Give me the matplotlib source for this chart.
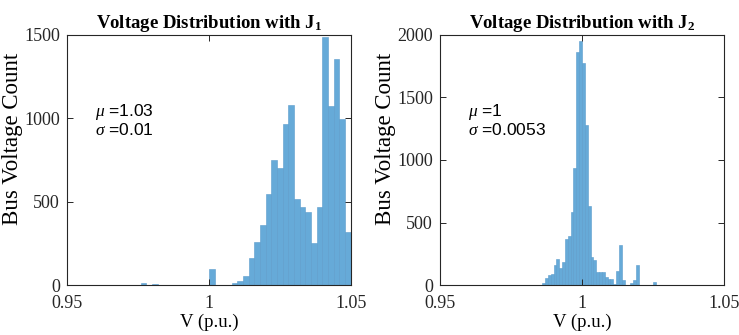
import numpy as np
import matplotlib
matplotlib.use("Agg")
import matplotlib.pyplot as plt

matplotlib.rcParams.update({
    "font.family": "Liberation Serif",
    "mathtext.fontset": "custom",
    "mathtext.rm": "Liberation Serif",
    "mathtext.it": "Liberation Serif:italic",
    "mathtext.bf": "Liberation Serif:bold",
})

# histogram counts
# J1: bin width 0.002, first bin starts at 0.976
J1_START, J1_WIDTH = 0.976, 0.002
J1_COUNTS = [12, 0, 5, 0, 0, 0, 0, 0, 0, 0, 0, 0,
             96, 0, 3, 3, 14, 28, 56, 164, 260, 362, 544, 752, 702,
             966, 1082, 514, 470, 438, 254, 470, 1486, 1072, 1356, 994, 320]
J1_MU, J1_SIGMA = "1.03", "0.01"

# J2: bin width 0.001, first bin starts at 0.986
J2_START, J2_WIDTH = 0.986, 0.001
J2_COUNTS = [16, 56, 82, 90, 160, 213, 136, 184, 372, 394, 588, 939,
             1865, 1950, 1772, 1280, 636, 223, 202, 106, 110, 108, 64, 48,
             48, 10, 114, 322, 42, 0, 0, 21, 42, 160, 0, 0, 0, 0, 0, 26]
J2_MU, J2_SIGMA = "1", "0.0053"

PANELS = [
    ("1", J1_START, J1_WIDTH, J1_COUNTS, J1_MU, J1_SIGMA, [0, 500, 1000, 1500]),
    ("2", J2_START, J2_WIDTH, J2_COUNTS, J2_MU, J2_SIGMA, [0, 500, 1000, 1500, 2000]),
]

FACE = "#66aad8"
EDGE = "#5a9ccb"
AXC = "#262626"

fig = plt.figure(figsize=(7.39, 3.35), dpi=100)
rects = [[0.0907, 0.1484, 0.3839, 0.748], [0.5954, 0.1484, 0.3843, 0.748]]

for rect, (idx, start, width, counts, mu, sigma, yt) in zip(rects, PANELS):
    ax = fig.add_axes(rect)
    lefts = start + width * np.arange(len(counts))
    ax.bar(lefts, counts, width=width, align="edge", color=FACE,
           edgecolor=EDGE, linewidth=0.4)
    ax.set_xlim(0.95, 1.05)
    ax.set_ylim(0, yt[-1])
    ax.set_xticks([0.95, 1.0, 1.05])
    ax.set_xticklabels(["0.95", "1", "1.05"])
    ax.set_yticks(yt)
    ax.tick_params(direction="in", top=True, right=True, length=4,
                   width=0.7, labelsize=13, colors=AXC)
    ax.tick_params(axis="x", pad=7)
    ax.tick_params(axis="y", pad=5)
    for s in ax.spines.values():
        s.set_color(AXC)
        s.set_linewidth(0.8)
    ax.set_title(r"Voltage Distribution with J$_{\mathbf{" + idx + "}}$",
                 fontsize=13.5, fontweight="bold", pad=5)
    ax.set_xlabel("V (p.u.)", fontsize=13.5, labelpad=1)
    ax.set_ylabel("Bus Voltage Count", fontsize=16.5)
    ax.yaxis.set_label_coords(-0.155, 0.585)
    ax.text(0.10, 0.693, r"$\mu$ =" + mu, transform=ax.transAxes,
            family="Liberation Sans", fontsize=12.5, va="center")
    ax.text(0.10, 0.62, r"$\sigma$ =" + sigma, transform=ax.transAxes,
            family="Liberation Sans", fontsize=12.5, va="center")

fig.savefig("out.png", dpi=100)
